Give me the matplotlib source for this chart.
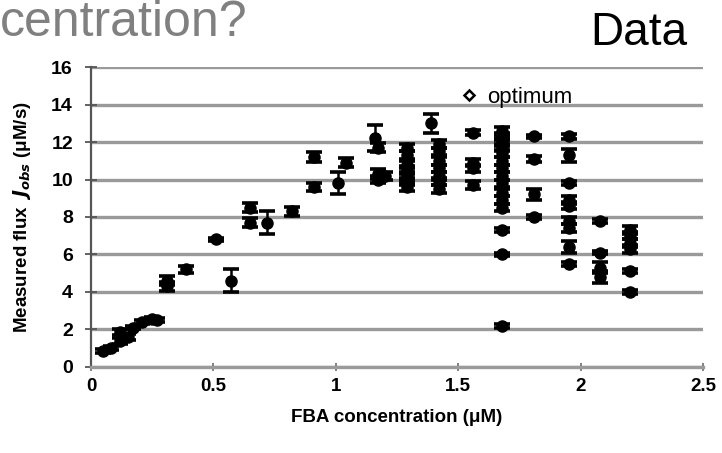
import matplotlib
matplotlib.use("Agg")
import matplotlib.pyplot as plt
from matplotlib.lines import Line2D

plt.rcParams['font.family'] = ['Liberation Sans', 'DejaVu Sans']

# Data
fba = [0.05, 0.08, 0.12, 0.12, 0.15, 0.17, 0.21, 0.25, 0.27,
       0.31, 0.31, 0.39, 0.51, 0.57, 0.65, 0.65, 0.72, 0.82,
       0.91, 0.91, 1.01, 1.04, 1.16, 1.17, 1.17, 1.17, 1.20,
       1.29, 1.29, 1.29, 1.29, 1.29, 1.29, 1.29,
       1.39, 1.42, 1.42, 1.42, 1.42, 1.42, 1.42, 1.42,
       1.56, 1.56, 1.56, 1.56,
       1.68, 1.68, 1.68, 1.68, 1.68, 1.68, 1.68, 1.68, 1.68, 1.68, 1.68, 1.68,
       1.68, 1.68, 1.68,
       1.81, 1.81, 1.81, 1.81,
       1.95, 1.95, 1.95, 1.95, 1.95, 1.95, 1.95, 1.95, 1.95,
       2.08, 2.08, 2.08, 2.08,
       2.20, 2.20, 2.20, 2.20, 2.20, 2.20]
flux = [0.85, 1.0, 1.4, 1.85, 1.6, 2.1, 2.4, 2.55, 2.5,
        4.6, 4.3, 5.2, 6.8, 4.6, 8.5, 7.7, 7.7, 8.3,
        11.2, 9.6, 9.8, 10.9, 12.2, 11.7, 10.3, 10.0, 10.2,
        11.7, 11.3, 10.8, 10.5, 10.2, 9.9, 9.6,
        13.0, 11.9, 11.5, 11.0, 10.6, 10.2, 9.9, 9.5,
        12.5, 10.9, 10.6, 9.7,
        12.6, 12.3, 12.0, 11.7, 11.4, 11.0, 10.6, 10.2, 9.8, 9.3, 8.9, 8.5,
        7.3, 6.0, 2.2,
        12.3, 11.1, 9.2, 8.0,
        12.3, 11.3, 9.8, 8.9, 8.6, 7.8, 7.4, 6.4, 5.5,
        7.8, 6.1, 5.3, 4.8,
        7.3, 7.0, 6.6, 6.3, 5.1, 4.0]
flux_err = [0.1, 0.1, 0.15, 0.15, 0.15, 0.1, 0.1, 0.1, 0.1,
            0.25, 0.25, 0.2, 0.1, 0.6, 0.25, 0.25, 0.6, 0.25,
            0.25, 0.2, 0.6, 0.25, 0.7, 0.25, 0.25, 0.2, 0.2,
            0.2, 0.2, 0.2, 0.2, 0.2, 0.2, 0.2,
            0.5, 0.2, 0.2, 0.2, 0.2, 0.2, 0.2, 0.2,
            0.15, 0.2, 0.2, 0.2,
            0.2, 0.2, 0.2, 0.2, 0.2, 0.2, 0.2, 0.2, 0.2, 0.2, 0.2, 0.2,
            0.1, 0.1, 0.1,
            0.1, 0.15, 0.3, 0.1,
            0.15, 0.35, 0.1, 0.2, 0.2, 0.2, 0.2, 0.3, 0.1,
            0.1, 0.1, 0.3, 0.3,
            0.2, 0.2, 0.2, 0.2, 0.1, 0.1]

x_ticks = [0, 0.5, 1, 1.5, 2, 2.5]
x_tick_labels = ['0', '0.5', '1', '1.5', '2', '2.5']
y_ticks = [0, 2, 4, 6, 8, 10, 12, 14, 16]
legend_label = 'optimum'

fig = plt.figure(figsize=(7.22, 4.53), dpi=100)
ax = fig.add_axes([0.126, 0.19, 0.848, 0.662])

ax.set_xlim(0, 2.5)
ax.set_ylim(0, 16)

for yv in y_ticks:
    ax.axhline(yv, color='#9a9a9a', lw=2.4, zorder=1)

ax.errorbar(fba, flux, yerr=flux_err, fmt='o', color='black', ms=8,
            ecolor='black', elinewidth=1.8, capsize=5.5, capthick=2.6, zorder=3)

for s in ['top', 'right']:
    ax.spines[s].set_visible(False)
ax.spines['left'].set_color('#555555')
ax.spines['left'].set_linewidth(1.6)
ax.spines['bottom'].set_color('#9a9a9a')
ax.spines['bottom'].set_linewidth(2.4)

ax.set_xticks(x_ticks)
ax.set_xticklabels(x_tick_labels)
ax.set_yticks(y_ticks)
ax.tick_params(axis='y', direction='inout', length=8, width=1.3, color='#555555',
               labelsize=14, pad=9)
ax.tick_params(axis='x', direction='inout', length=6, width=1.3, color='#777777',
               labelsize=13.5, pad=5)
for lab in ax.get_xticklabels() + ax.get_yticklabels():
    lab.set_fontweight('bold')

ax.set_xlabel('FBA concentration (μM)', fontsize=13.5, fontweight='bold', labelpad=10)
ax.set_ylabel(r'Measured flux $\;\mathbfit{J}_{\mathbfit{obs}}$ (μM/s)', fontsize=13.5,
              fontweight='bold', labelpad=13)

proxy = Line2D([], [], marker='D', ls='none', mfc='white', mec='black', ms=5.5, mew=1.8)
ax.legend([proxy], [legend_label], loc='center left', bbox_to_anchor=(0.585, 0.9),
          frameon=False, fontsize=16, handletextpad=0.3, handlelength=1.0,
          borderaxespad=0)

fig.text(0.0, 1.0, 'centration?', ha='left', va='top', fontsize=36,
         color='#808080')
fig.text(0.818, 0.975, 'Data', ha='left', va='top', fontsize=33, color='black')

fig.savefig('out.png', dpi=100)
